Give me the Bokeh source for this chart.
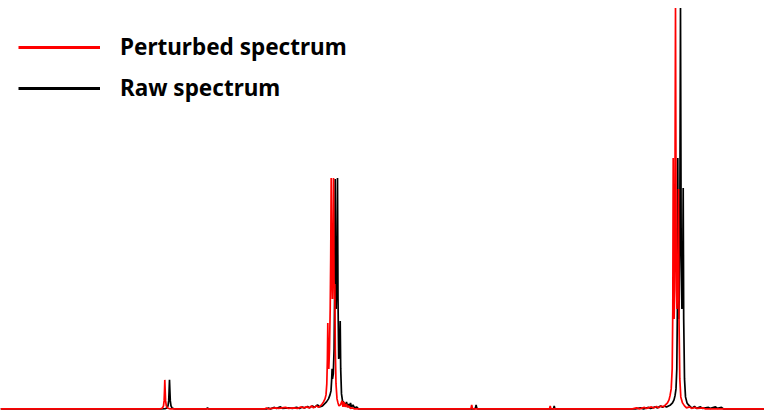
from bokeh.plotting import figure
from bokeh.models import Legend, LegendItem, Range1d
from bokeh.embed import file_html
from bokeh.resources import INLINE

# Spectrum traces as (position, intensity) samples
raw_x = [0, 160,
         165, 166.5, 167.5, 168.2, 168.6, 169, 169.4, 169.8, 170.5, 171.5, 173,
         175, 206, 207, 208, 266,
         268, 270, 274, 276, 280, 282, 288, 292, 296, 299, 302, 304, 307, 309, 312, 314, 317, 319, 322, 324,
         326, 328, 329.5, 330.5, 331.2, 331.6, 332, 332.8, 333.6, 334.2, 334.7, 335.2, 335.6, 336, 336.5,
         337, 337.5, 338.2, 339.2, 339.7, 340.2, 341, 342, 343.5, 345, 346, 347, 348, 349, 350, 351, 352.5,
         354, 356, 358,
         420, 474, 475, 475.6, 476.2, 477, 553, 553.7, 554.4,
         635, 640, 643, 648, 650, 655, 657, 660, 662, 664, 666, 668, 670, 672, 673.5, 674.5, 675.5, 676.3,
         676.9, 677.3, 677.7, 678.2, 678.7, 679.3, 680, 680.7, 681.4, 682.1, 682.7, 683.2, 684, 685, 686.5,
         688, 690, 692, 694, 696, 700, 702, 708, 710, 715, 717, 721, 723, 764]
raw_y = [0, 0,
         0.3, 1, 3, 8, 18, 29, 18, 8, 3, 1, 0.3,
         0, 0, 1, 0, 0,
         1, 0, 1.5, 0.5, 2, 0.5, 1, 0.5, 1.5, 0.5, 2, 1, 2.5, 1, 3, 1.5, 4, 2, 3, 5,
         7, 10, 14, 18, 30, 40, 30, 35, 60, 120, 230, 120, 100, 118, 140,
         231, 110, 50, 60, 88, 40, 15, 8, 6, 3, 7, 2, 5, 1.5, 6, 2, 4,
         1, 2, 0,
         0, 0, 1, 4, 1, 0, 0, 3, 0,
         0, 1, 0, 1.5, 0.5, 2, 1, 3, 1.5, 3, 2, 3, 4, 6, 9, 13, 20, 40,
         100, 251, 110, 90, 110, 180, 401, 160, 100, 120, 221, 90, 30, 12, 6,
         4, 2, 1, 2.5, 0.5, 2, 0.5, 1.5, 0.5, 2, 0.5, 1.5, 0, 0]

perturbed_x = [0, 158,
               160.5, 162, 163, 163.6, 164, 164.3, 164.7, 165.1, 165.8, 167, 168.5,
               170, 264, 266, 268, 275, 278, 285, 288, 293, 297, 301, 303, 306, 309, 311, 313, 316, 318, 321, 323,
               324.5, 325.5, 326.3, 326.9, 327.3, 327.7, 328.3, 329, 329.7, 330.2, 330.7, 331.2, 331.8, 332.4,
               333, 333.5, 333.9, 334.3, 334.8, 335.5, 336.5, 337.5, 338.5, 340, 341.5, 342.5, 343.5, 344.5,
               346, 347, 348, 350, 352, 354,
               470, 470.6, 471.2, 471.8, 472.5, 549, 549.7, 550.4,
               632, 636, 639, 644, 646, 651, 653, 656, 658, 661, 663, 665, 667, 668.5, 669.5, 670.7, 671.7,
               672.3, 672.7, 673.1, 673.6, 674.2, 675, 675.7, 676.4, 677.2, 678, 678.5, 679.3, 680.3, 682,
               684, 686, 689, 691, 695, 697, 703, 705, 764]
perturbed_y = [0, 0,
               0.3, 1, 3, 8, 18, 29, 18, 8, 3, 1, 0.3,
               0, 0, 1, 0, 1, 0.5, 1.5, 0.5, 1, 0.5, 2, 1, 2, 1, 3, 1, 3, 1.5, 4, 7,
               10, 14, 25, 50, 86, 50, 40, 60, 100, 150, 231, 140, 110, 150,
               231, 130, 110, 125, 60, 25, 10, 6, 3, 4, 8, 2, 7, 2,
               5, 1.5, 3, 0.5, 1, 0,
               0, 1, 4, 1, 0, 0, 3, 0,
               0, 1, 0, 1.5, 0.5, 2, 1, 2.5, 1, 3, 2, 4, 6, 9, 13, 20, 40,
               100, 251, 110, 90, 120, 401, 160, 100, 120, 220, 90, 30, 12, 6,
               3, 1, 2, 0.5, 1.5, 0.5, 1, 0, 0]

series_labels = ["Perturbed spectrum", "Raw spectrum"]
series_colors = ["#ff0000", "#000000"]

p = figure(width=764, height=410, output_backend="svg", toolbar_location=None,
           x_range=Range1d(0, 764), y_range=Range1d(-1.6, 408.4),
           min_border=0, x_axis_location=None, y_axis_location=None)
p.grid.visible = False
p.outline_line_color = None
p.background_fill_color = "white"
p.border_fill_color = "white"

raw_r = p.line(raw_x, raw_y, line_color=series_colors[1], line_width=1.7)
pert_r = p.line(perturbed_x, perturbed_y, line_color=series_colors[0], line_width=1.7)

# thicker key lines for the legend (kept outside the visible range)
key_red = p.line([-20, -10], [-50, -50], line_color=series_colors[0], line_width=3)
key_black = p.line([-20, -10], [-50, -50], line_color=series_colors[1], line_width=3)

legend = Legend(items=[LegendItem(label=series_labels[0], renderers=[key_red]),
                       LegendItem(label=series_labels[1], renderers=[key_black])],
                location=(18, 307), orientation="vertical",
                glyph_width=82, glyph_height=30, label_height=30, spacing=10,
                label_standoff=20, padding=0, margin=0,
                label_text_font="Noto Sans", label_text_font_style="bold",
                label_text_font_size="22.5px", label_text_color="#000000",
                border_line_color=None, background_fill_alpha=0)
p.add_layout(legend)

open("out.html", "w").write(file_html(p, INLINE))
